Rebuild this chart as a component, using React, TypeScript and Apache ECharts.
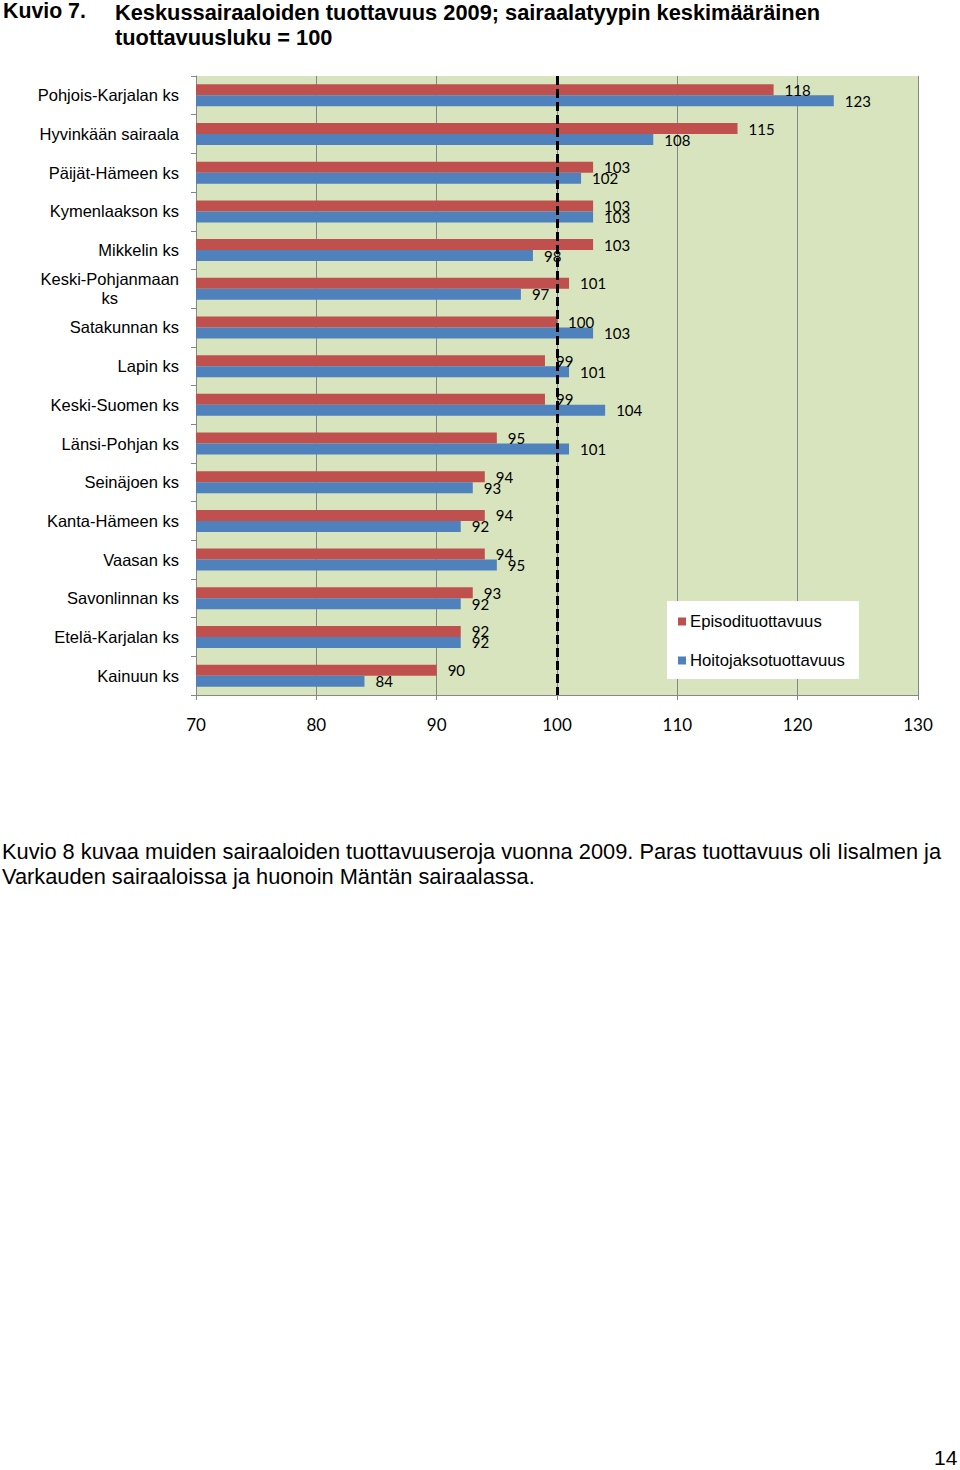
import React, {FunctionComponent, useRef, useEffect} from 'react';
import * as echarts from 'echarts';

const categories = [
    'Pohjois-Karjalan ks',
    'Hyvinkään sairaala',
    'Päijät-Hämeen ks',
    'Kymenlaakson ks',
    'Mikkelin ks',
    'Keski-Pohjanmaan\nks',
    'Satakunnan ks',
    'Lapin ks',
    'Keski-Suomen ks',
    'Länsi-Pohjan ks',
    'Seinäjoen ks',
    'Kanta-Hämeen ks',
    'Vaasan ks',
    'Savonlinnan ks',
    'Etelä-Karjalan ks',
    'Kainuun ks'
];

const seriesNames = ['Episodituottavuus', 'Hoitojaksotuottavuus'];
const episodiValues = [118, 115, 103, 103, 103, 101, 100, 99, 99, 95, 94, 94, 94, 93, 92, 90];
const hoitojaksoValues = [123, 108, 102, 103, 98, 97, 103, 101, 104, 101, 93, 92, 95, 92, 92, 84];

const referenceValue = 100;
const xTicks = [70, 130, 10]; // min, max, interval

const titleLead = 'Kuvio 7.';
const titleLines = ['Keskussairaaloiden tuottavuus 2009; sairaalatyypin keskimääräinen', 'tuottavuusluku = 100'];
const bodyLines = [
    'Kuvio 8 kuvaa muiden sairaaloiden tuottavuuseroja vuonna 2009. Paras tuottavuus oli Iisalmen ja',
    'Varkauden sairaaloissa ja huonoin Mäntän sairaalassa.'
];
const pageNumber = '14';

const ARIAL = '"Liberation Sans", Arial, sans-serif';
const CALIBRI = 'Lato, "Open Sans", sans-serif';

const App: FunctionComponent = () => {
    const ref = useRef<HTMLDivElement>(null);

    useEffect(() => {
        const chart = echarts.init(ref.current as HTMLDivElement, null, {renderer: 'svg'});
        const labelStyle = {show: true, position: 'right', distance: 11, color: '#000', fontFamily: CALIBRI, fontSize: 15};
        chart.setOption({
            animation: false,
            backgroundColor: '#fff',
            grid: {
                left: 196,
                right: 42,
                top: 76,
                bottom: 775,
                show: true,
                backgroundColor: '#D7E4BD',
                borderWidth: 0,
                containLabel: false
            },
            legend: {
                orient: 'vertical',
                left: 667,
                top: 601,
                padding: [12, 14, 10, 11],
                backgroundColor: '#fff',
                itemWidth: 8,
                itemHeight: 8,
                itemGap: 22,
                icon: 'rect',
                data: seriesNames,
                textStyle: {fontFamily: ARIAL, fontSize: 16.7, color: '#000', padding: [0, 0, 0, -1]}
            },
            xAxis: {
                type: 'value',
                min: xTicks[0],
                max: xTicks[1],
                interval: xTicks[2],
                axisLine: {show: true, lineStyle: {color: '#878787', width: 1}},
                axisTick: {show: true, length: 5, lineStyle: {color: '#878787'}},
                splitLine: {show: true, lineStyle: {color: '#878787', width: 1}},
                axisLabel: {margin: 21, color: '#000', fontFamily: CALIBRI, fontSize: 17}
            },
            yAxis: {
                type: 'category',
                inverse: true,
                data: categories,
                axisLine: {show: true, lineStyle: {color: '#878787', width: 1}},
                axisTick: {show: true, length: 5, lineStyle: {color: '#878787'}},
                axisLabel: {
                    margin: 17,
                    color: '#000',
                    fontFamily: ARIAL,
                    fontSize: 16.5,
                    lineHeight: 19,
                    formatter: (v: string) =>
                        v.includes('\n')
                            ? v
                                  .split('\n')
                                  .map(s => `{c|${s}}`)
                                  .join('\n')
                            : v,
                    rich: {c: {align: 'center', fontFamily: ARIAL, fontSize: 16.5, lineHeight: 19, color: '#000'}}
                }
            },
            series: [
                {
                    name: seriesNames[0],
                    type: 'bar',
                    data: episodiValues,
                    barWidth: 11,
                    barGap: '0%',
                    itemStyle: {color: '#C0504D'},
                    label: labelStyle
                },
                {
                    name: seriesNames[1],
                    type: 'bar',
                    data: hoitojaksoValues,
                    barWidth: 11,
                    barGap: '0%',
                    itemStyle: {color: '#4F81BD'},
                    label: labelStyle,
                    markLine: {
                        silent: true,
                        symbol: 'none',
                        label: {show: false},
                        lineStyle: {color: '#000', type: [9, 4], width: 3},
                        data: [{xAxis: referenceValue}]
                    }
                }
            ],
            graphic: [
                {
                    type: 'text',
                    left: 3,
                    top: 0,
                    style: {text: titleLead, font: `bold 21.3px ${ARIAL}`, fill: '#000'}
                },
                {
                    type: 'text',
                    left: 115,
                    top: 0,
                    style: {text: titleLines.join('\n'), font: `bold 21.8px ${ARIAL}`, fill: '#000', lineHeight: 25}
                },
                {
                    type: 'text',
                    left: 2,
                    top: 839,
                    style: {text: bodyLines.join('\n'), font: `21.8px ${ARIAL}`, fill: '#000', lineHeight: 25}
                },
                {
                    type: 'text',
                    left: 934,
                    top: 1447,
                    style: {text: pageNumber, font: `21px ${ARIAL}`, fill: '#000'}
                }
            ]
        });
        return () => chart.dispose();
    }, []);

    return (
        <div
            ref={ref}
            style={{position: 'absolute', left: 0, top: 0, width: 960, height: 1470, background: '#fff'}}
        ></div>
    );
};

export default App;
